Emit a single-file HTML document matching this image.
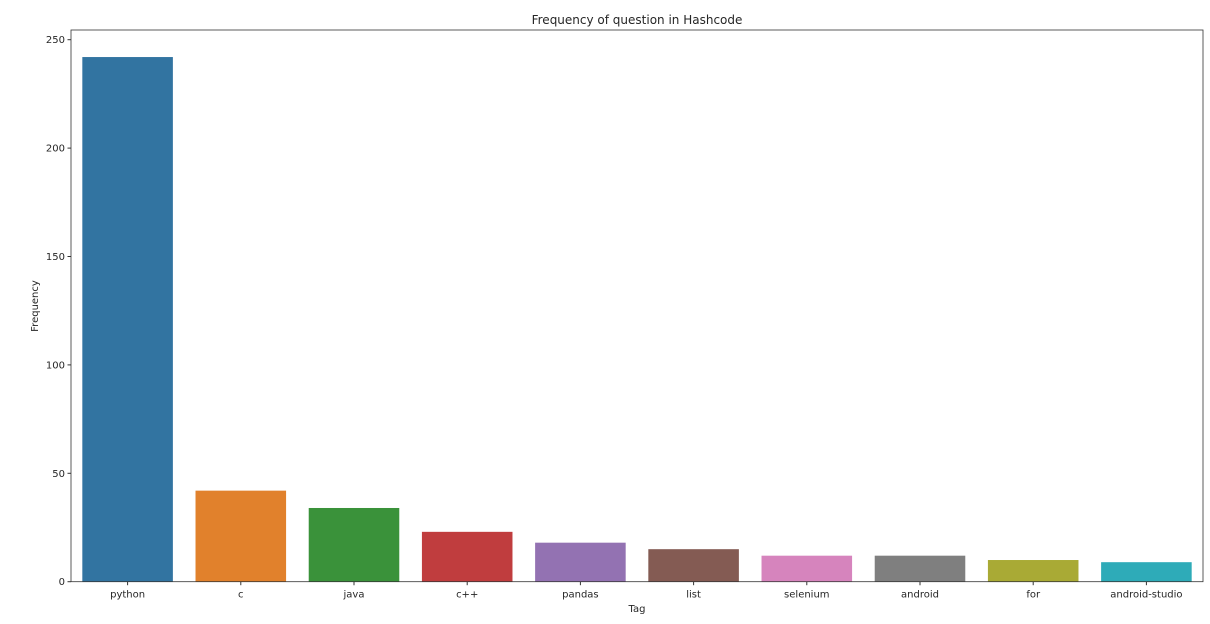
<!DOCTYPE html>
<html><head><meta charset="utf-8"><style>
body{margin:0;background:#fff;font-family:"Liberation Sans","DejaVu Sans",sans-serif;}
svg text{font-family:"DejaVu Sans","Liberation Sans",sans-serif;fill:#262626;}
</style></head><body>
<svg id="chart" width="1210" height="619" xmlns="http://www.w3.org/2000/svg">
<text x="637" y="24" font-size="12" text-anchor="middle">Frequency of question in Hashcode</text>
<text x="637" y="612" font-size="10" text-anchor="middle">Tag</text>
<text x="38" y="306" font-size="10" text-anchor="middle" transform="rotate(-90 38 306)">Frequency</text>
<g id="bars"></g><g id="ticks"></g>
<rect x="71" y="30" width="1132" height="551.7" fill="none" stroke="#333" stroke-width="0.8"/>
</svg>
<script>
const categories=["python","c","java","c++","pandas","list","selenium","android","for","android-studio"];
const values=[242,42,34,23,18,15,12,12,10,9];
const yTicks=[0,50,100,150,200,250];
const colors=["#3274a1","#e1812c","#3a923a","#c03d3e","#9372b2","#845b53","#d684bd","#7f7f7f","#a9aa35","#2eabb8"];
const L=71,R=1203,T=30,B=581.7,yMax=(B-39.7)/(108.4/50);
const NS="http://www.w3.org/2000/svg";
const y=v=>B-v*(B-39.7)/250;
const slot=(R-L)/categories.length;
const x=i=>L+slot*i;
const bars=document.getElementById('bars'),ticks=document.getElementById('ticks');
categories.forEach((c,i)=>{
 const r=document.createElementNS(NS,'rect');
 
 
 r.setAttribute('x',x(i)+slot*0.1);r.setAttribute('width',slot*0.8);
 r.setAttribute('y',y(values[i]));r.setAttribute('height',B-y(values[i]));
 r.setAttribute('fill',colors[i]);bars.appendChild(r);
 const cx=x(i)+slot/2;
 const tl=document.createElementNS(NS,'line');
 tl.setAttribute('x1',cx);tl.setAttribute('x2',cx);tl.setAttribute('y1',B);tl.setAttribute('y2',B+3.5);tl.setAttribute('stroke','#333');ticks.appendChild(tl);
 const t=document.createElementNS(NS,'text');
 
 
 t.setAttribute('x',cx);t.setAttribute('y',B+16);t.setAttribute('font-size','10');t.setAttribute('text-anchor','middle');
 t.textContent=c;ticks.appendChild(t);
});
yTicks.forEach(v=>{
 const tl=document.createElementNS(NS,'line');
 tl.setAttribute('x1',L-3.5);tl.setAttribute('x2',L);tl.setAttribute('y1',y(v));tl.setAttribute('y2',y(v));tl.setAttribute('stroke','#333');ticks.appendChild(tl);
 const t=document.createElementNS(NS,'text');
 
 
 t.setAttribute('x',L-6);t.setAttribute('y',y(v)+3.5);t.setAttribute('font-size','10');t.setAttribute('text-anchor','end');
 t.textContent=v;ticks.appendChild(t);
});
</script>
</body></html>
